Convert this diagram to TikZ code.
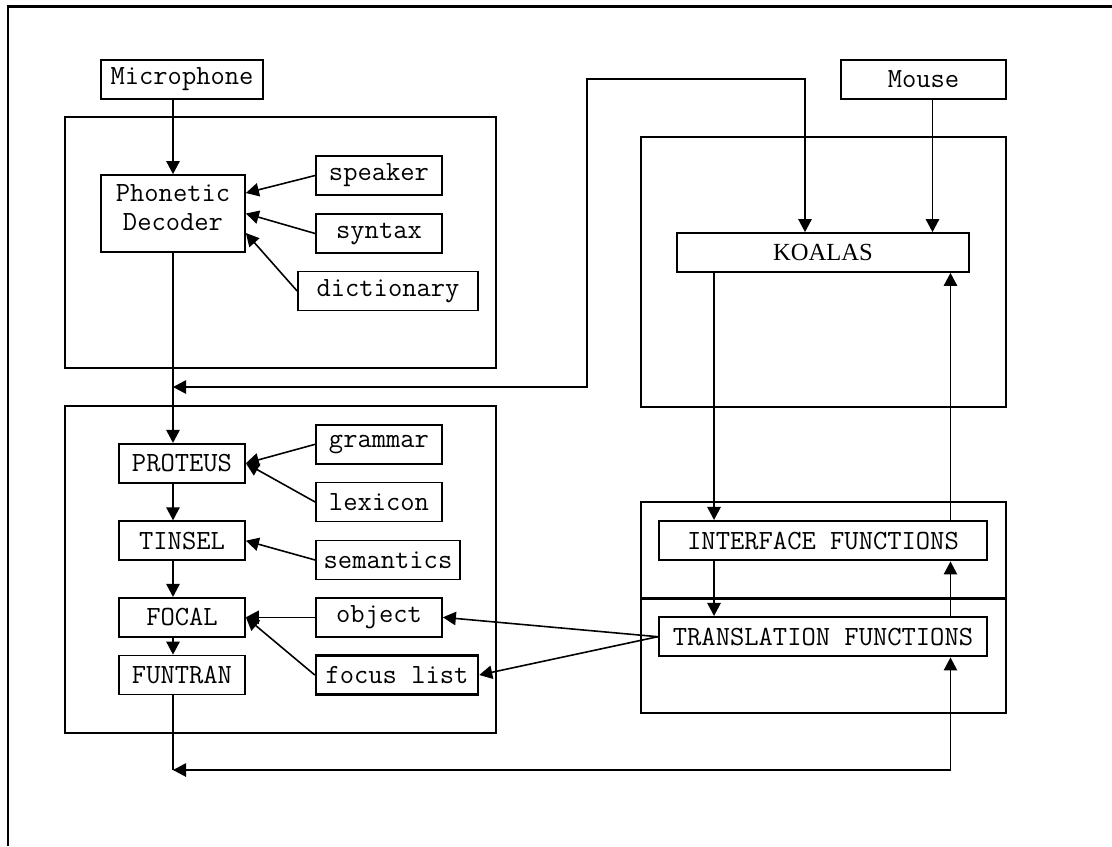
\documentclass[tikz,border=0pt]{standalone}
\usepackage{fontspec}
\setmainfont{Liberation Serif}
\usetikzlibrary{arrows.meta}

\tikzset{
  box/.style={draw, line width=1pt, inner sep=0pt, minimum height=0.78cm,
    font=\ttfamily\fontsize{15.8}{16.5}\selectfont},
  fbox/.style={box, line width=1.4pt},
  panel/.style={draw, line width=1pt},
  link/.style={line width=0.9pt, >={Triangle[length=7.4pt,width=7.6pt]}, ->},
}

\begin{document}
\begin{tikzpicture}[x=0.02cm, y=-0.02cm]
\useasboundingbox (0,0) rectangle (1112,846);
\draw[line width=1.5pt] (8,846) -- (8,6.5) -- (1112,6.5);

% panels
\draw[panel] (65,117) rectangle (496,368);
\draw[panel] (65,405.7) rectangle (496,732.7);
\draw[panel] (641,137) rectangle (1006,406.7);
\draw[panel] (641,501.7) rectangle (1006,597.7);
\draw[panel] (641,599) rectangle (1006,713.3);

% speech side
\node[box, minimum width=3.24cm] (mic) at (182,79.5) {Microphone};
\node[box, minimum width=2.88cm, minimum height=1.54cm, align=center] (phon) at (173,213.5) {Phonetic\\Decoder\\[-0.35cm]};
\node[box, minimum width=2.52cm] (speaker) at (379,175.5) {speaker};
\node[box, minimum width=2.52cm] (syntax) at (379,233.5) {syntax};
\node[box, minimum width=3.6cm] (dict) at (388,291) {dictionary};

\node[box, minimum width=2.52cm] (proteus) at (182,463.3) {PROTEUS};
\node[box, minimum width=2.52cm] (tinsel) at (182,540.7) {TINSEL};
\node[box, minimum width=2.52cm] (focal) at (182,617.3) {FOCAL};
\node[box, minimum width=2.52cm] (funtran) at (182,675) {FUNTRAN};
\node[box, minimum width=2.52cm] (grammar) at (379,444.3) {grammar};
\node[box, minimum width=2.52cm] (lexicon) at (379,502) {lexicon};
\node[box, minimum width=2.88cm] (semantics) at (388,560) {semantics};
\node[box, minimum width=2.52cm] (object) at (379,617.3) {object};
\node[fbox, minimum width=3.24cm] (focus) at (397,675) {focus list};

% mouse side
\node[box, minimum width=3.3cm] (mouse) at (923.5,79.5) {Mouse};
\node[box, minimum width=5.84cm, font=\rmfamily\fontsize{14}{15.5}\selectfont] (koalas) at (823,252.5) {KOALAS};
\node[fbox, minimum width=6.56cm] (iface) at (823,540.7) {INTERFACE FUNCTIONS};
\node[fbox, minimum width=6.56cm] (trans) at (823,636.7) {TRANSLATION FUNCTIONS};

\coordinate (jtop) at (173,387);
\coordinate (jbot) at (173,770);
\coordinate (bend) at (587,79);

% connectors
\draw[link] (mic.south -| phon) -- (phon);
\draw[link] (speaker.west) -- ([yshift=0.41cm]phon.east);
\draw[link] (syntax.west) -- ([yshift=0.0cm]phon.east);
\draw[link] (dict.west) -- ([yshift=-0.39cm]phon.east);
\draw[link] (phon) -- (proteus.north -| phon);
\draw[link] (proteus.south -| phon) -- (tinsel.north -| phon);
\draw[link] (tinsel.south -| phon) -- (focal.north -| phon);
\draw[link] (focal.south -| phon) -- (funtran.north -| phon);
\draw[link] (grammar.west) -- (proteus.east);
\draw[link] (lexicon.west) -- (proteus.east);
\draw[link] (semantics.west) -- (tinsel.east);
\draw[link] (object.west) -- (focal.east);
\draw[link] (focus.west) -- (focal.east);
\draw[link] (trans.west) -- (object.east);
\draw[link] (trans.west) -- (focus.east);

\draw[link] ([xshift=0.18cm]mouse.south) -- ([xshift=0.18cm]mouse.south |- koalas.north);
\draw[link] ([xshift=-2.18cm]koalas.south) -- ([xshift=-2.18cm]iface.north);
\draw[link] ([xshift=-2.18cm]iface.south) -- ([xshift=-2.18cm]trans.north);
\draw[link] ([xshift=2.55cm]trans.north) -- ([xshift=2.55cm]iface.south);
\draw[link] ([xshift=2.55cm]iface.north) -- ([xshift=2.55cm]koalas.south);

\draw[link, <->] (jtop) -| (bend) -| ([xshift=-0.36cm]koalas.north);
\draw[line width=0.9pt] (funtran.south -| phon) -- (jbot);
\draw[link, <->] (jbot) -| ([xshift=2.55cm]trans.south);
\end{tikzpicture}
\end{document}
